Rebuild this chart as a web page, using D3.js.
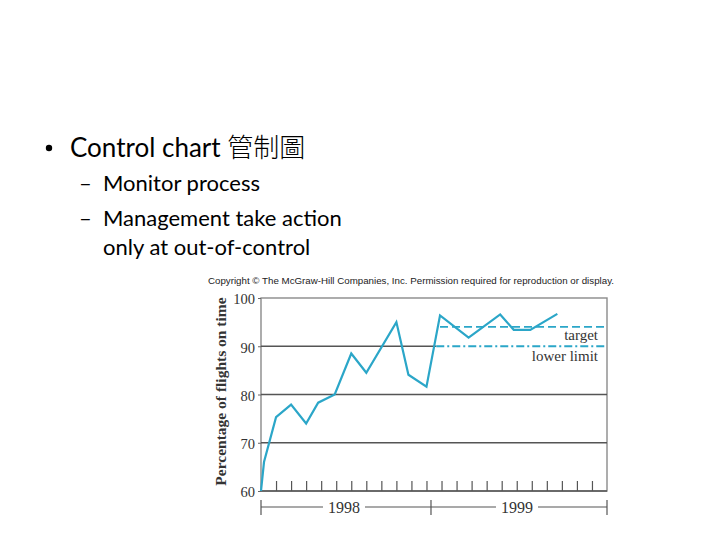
<!DOCTYPE html>
<html>
<head>
<meta charset="utf-8">
<script src="https://cdn.jsdelivr.net/npm/d3@7"></script>
<style>
  html, body { margin: 0; padding: 0; background: #fff; }
  svg { display: block; }
</style>
</head>
<body>
<div id="container"></div>
<script>
const w = 720;
const h = 540;

// slide text
const bulletLines = ['Control chart 管制圖', 'Monitor process', 'Management take action', 'only at out-of-control'];

// chart data (month position, % on time)
const monthPos = [0, 0.2, 1, 2, 3, 3.8, 4.9, 6, 7, 9, 9.8, 11, 11.9, 13.8, 15.9, 16.8, 17.9, 19.7];
const onTime = [60, 66, 75.3, 77.9, 74, 78.3, 80, 88.5, 84.5, 95, 84.1, 81.6, 96.4, 91.8, 96.6, 93.4, 93.4, 96.7];
const yTicks = [60, 70, 80, 90, 100];
const monthTicks = d3.range(1, 23);
const years = ['1998', '1999'];
const yearStart = [0, 11.3];
const yearEnd = [11.3, 23];
const targetValue = 94;
const targetStart = 11.9;
const lowerLimitValue = 90;
const lowerLimitStart = 11.65;

const plotLeft = 261, plotRight = 607, plotTop = 298, plotBottom = 491;
const lineColor = '#2ba6c8';
const serif = '"Liberation Serif", "Times New Roman", serif';
const slideFont = 'Lato, "Noto Sans", sans-serif';

const svg = d3.select('#container')
  .append('svg')
  .attr('width', w)
  .attr('height', h);

// bullets
svg.append('circle').attr('cx', 49).attr('cy', 148).attr('r', 3.2).attr('fill', '#000');
const title = svg.append('text')
  .attr('x', 70).attr('y', 157)
  .style('font-family', slideFont)
  .style('font-size', '26px')
  .attr('fill', '#000');
title.append('tspan').text(bulletLines[0].split(' ').slice(0, 2).join(' ') + ' ');
title.append('tspan').text(bulletLines[0].split(' ')[2])
  .style('font-family', '"Noto Sans CJK TC"')
  .style('font-weight', 300);

const sub = [
  {dash: true, text: bulletLines[1], y: 191},
  {dash: true, text: bulletLines[2], y: 226},
  {dash: false, text: bulletLines[3], y: 255}
];
sub.forEach(d => {
  if (d.dash) {
    svg.append('text').text('–')
      .attr('x', 79).attr('y', d.y)
      .style('font-family', slideFont)
      .style('font-size', '22px');
  }
  svg.append('text').text(d.text)
    .attr('x', 103).attr('y', d.y)
    .style('font-family', slideFont)
    .style('font-size', '22px');
});

// copyright line
svg.append('text')
  .text('Copyright © The McGraw-Hill Companies, Inc. Permission required for reproduction or display.')
  .attr('x', 208).attr('y', 284)
  .attr('textLength', 406)
  .attr('lengthAdjust', 'spacingAndGlyphs')
  .style('font-family', '"Liberation Sans", Arial, sans-serif')
  .style('font-size', '9px')
  .attr('fill', '#222');

const xScale = d3.scaleLinear().domain([0, 23]).range([plotLeft, plotRight]);
const yScale = d3.scaleLinear().domain([60, 100]).range([plotBottom, plotTop]);

const chart = svg.append('g').attr('id', 'chart');

// frame
chart.append('rect')
  .attr('x', plotLeft).attr('y', plotTop)
  .attr('width', plotRight - plotLeft).attr('height', plotBottom - plotTop)
  .attr('fill', 'none')
  .attr('stroke', '#8a8a8a')
  .attr('stroke-width', 1.4);

// gridlines (90 stops where the lower limit starts)
chart.selectAll('line.grid')
  .data(yTicks.filter(d => d > 60 && d < 100))
  .enter()
  .append('line')
  .attr('class', 'grid')
  .attr('x1', plotLeft)
  .attr('x2', d => d === lowerLimitValue ? xScale(lowerLimitStart) : plotRight)
  .attr('y1', d => yScale(d))
  .attr('y2', d => yScale(d))
  .attr('stroke', '#555')
  .attr('stroke-width', 1.3);

chart.append('line')
  .attr('x1', plotLeft).attr('x2', plotRight)
  .attr('y1', plotBottom).attr('y2', plotBottom)
  .attr('stroke', '#555')
  .attr('stroke-width', 1.4);

// y axis
const yAxis = d3.axisLeft(yScale).tickValues(yTicks).tickSize(3).tickPadding(3);
const yg = chart.append('g')
  .attr('id', 'y-axis')
  .attr('transform', `translate(${plotLeft},0)`)
  .call(yAxis);
yg.select('.domain').remove();
yg.selectAll('line').attr('stroke', '#666');
yg.selectAll('text')
  .attr('dy', '0.4em')
  .style('font-family', serif)
  .style('font-size', '14.5px')
  .attr('fill', '#333');

svg.append('text')
  .text('Percentage of flights on time')
  .attr('transform', `translate(226,${(plotTop + plotBottom) / 2 - 3}) rotate(-90)`)
  .attr('text-anchor', 'middle')
  .style('font-family', serif)
  .style('font-weight', 'bold')
  .style('font-size', '15.5px')
  .attr('fill', '#333');

// month ticks on the bottom
const xAxis = d3.axisTop(xScale).tickValues(monthTicks).tickSize(10).tickFormat('');
const xg = chart.append('g')
  .attr('id', 'x-axis')
  .attr('transform', `translate(0,${plotBottom})`)
  .call(xAxis);
xg.select('.domain').remove();
xg.selectAll('line').attr('stroke', '#555').attr('stroke-width', 1.2);

// year brackets
const bracketY = 507;
years.forEach((yr, i) => {
  const x0 = xScale(yearStart[i]);
  const x1 = xScale(yearEnd[i]);
  const cx = (x0 + x1) / 2 - 2;
  const gap = 21;
  chart.append('line').attr('x1', x0).attr('x2', cx - gap)
    .attr('y1', bracketY).attr('y2', bracketY)
    .attr('stroke', '#555').attr('stroke-width', 1.2);
  chart.append('line').attr('x1', cx + gap).attr('x2', x1)
    .attr('y1', bracketY).attr('y2', bracketY)
    .attr('stroke', '#555').attr('stroke-width', 1.2);
  chart.append('text').text(yr)
    .attr('x', cx).attr('y', bracketY + 6)
    .attr('text-anchor', 'middle')
    .style('font-family', serif)
    .style('font-size', '16px')
    .attr('fill', '#333');
});
[yearStart[0], yearStart[1], yearEnd[1]].forEach(m => {
  chart.append('line')
    .attr('x1', xScale(m)).attr('x2', xScale(m))
    .attr('y1', bracketY - 7).attr('y2', bracketY + 8)
    .attr('stroke', '#555').attr('stroke-width', 1.2);
});

// target and lower limit
chart.append('line')
  .attr('x1', xScale(targetStart)).attr('x2', plotRight)
  .attr('y1', yScale(targetValue)).attr('y2', yScale(targetValue))
  .attr('stroke', lineColor).attr('stroke-width', 1.8)
  .attr('stroke-dasharray', '8,4');
chart.append('line')
  .attr('x1', xScale(lowerLimitStart)).attr('x2', plotRight)
  .attr('y1', yScale(lowerLimitValue)).attr('y2', yScale(lowerLimitValue))
  .attr('stroke', lineColor).attr('stroke-width', 1.8)
  .attr('stroke-dasharray', '8,3,2,3');

chart.append('text').text('target')
  .attr('x', 598).attr('y', 340)
  .attr('text-anchor', 'end')
  .style('font-family', serif).style('font-size', '15px')
  .attr('fill', '#333');
chart.append('text').text('lower limit')
  .attr('x', 598).attr('y', 361)
  .attr('text-anchor', 'end')
  .style('font-family', serif).style('font-size', '15px')
  .attr('fill', '#333');

// data line
const points = monthPos.map((m, i) => [m, onTime[i]]);
const line = d3.line().x(d => xScale(d[0])).y(d => yScale(d[1]));
chart.append('path')
  .datum(points)
  .attr('d', line)
  .attr('fill', 'none')
  .attr('stroke', lineColor)
  .attr('stroke-width', 2.2)
  .attr('stroke-linejoin', 'miter');
</script>
</body>
</html>
